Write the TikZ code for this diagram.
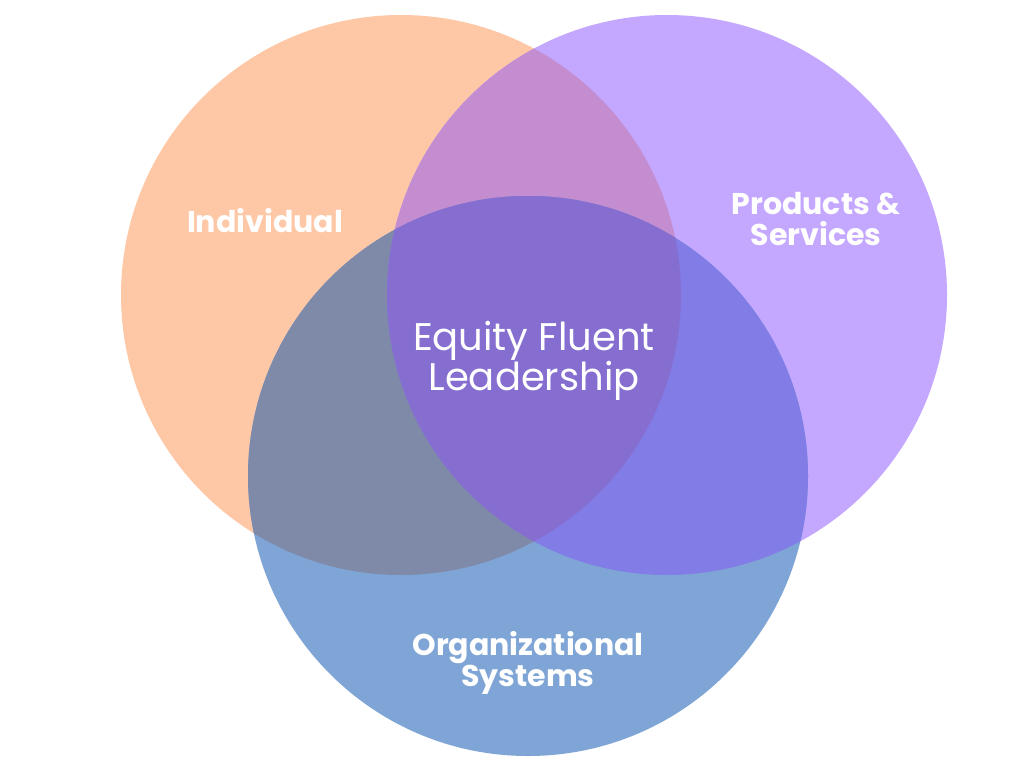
\documentclass[tikz,border=0pt]{standalone}
\usepackage{fontspec}
\setmainfont{Poppins}
\definecolor{cor}{HTML}{FEC8A6}
\definecolor{cpu}{HTML}{C4A8FF}
\definecolor{cbl}{HTML}{7FA5D6}
\definecolor{cop}{HTML}{C48DD0}
\definecolor{cob}{HTML}{7F8AA8}
\definecolor{cpb}{HTML}{827CE6}
\definecolor{cctr}{HTML}{856ED0}
\tikzset{
  lbl/.style={text=white, align=center, font=\bfseries\fontsize{30}{31}\selectfont, inner sep=0pt},
  ctr/.style={text=white, align=center, font=\fontsize{38.5}{36}\selectfont, inner sep=0pt},
}
\begin{document}
\begin{tikzpicture}[x=1pt,y=-1pt]
\useasboundingbox (0,0) rectangle (1024,768);
\coordinate (O) at (401,295);
\coordinate (P) at (667,295);
\coordinate (B) at (528,476);
\def\R{280}
\fill[cor] (O) circle (\R);
\fill[cpu] (P) circle (\R);
\fill[cbl] (B) circle (\R);
\begin{scope}
  \clip (O) circle (\R);
  \fill[cop] (P) circle (\R);
  \fill[cob] (B) circle (\R);
\end{scope}
\begin{scope}
  \clip (P) circle (\R);
  \fill[cpb] (B) circle (\R);
  \clip (O) circle (\R);
  \fill[cctr] (B) circle (\R);
\end{scope}
\node[lbl] (ind) at (265,221) {Individual};
\node[lbl] (prod) at (816,219) {Products \&\\Services};
\node[lbl] (org) at (528,663) {Organizational\\Systems};
\node[ctr] (efl) at (534,361) {Equity Fluent\\Leadership};
\end{tikzpicture}
\end{document}
